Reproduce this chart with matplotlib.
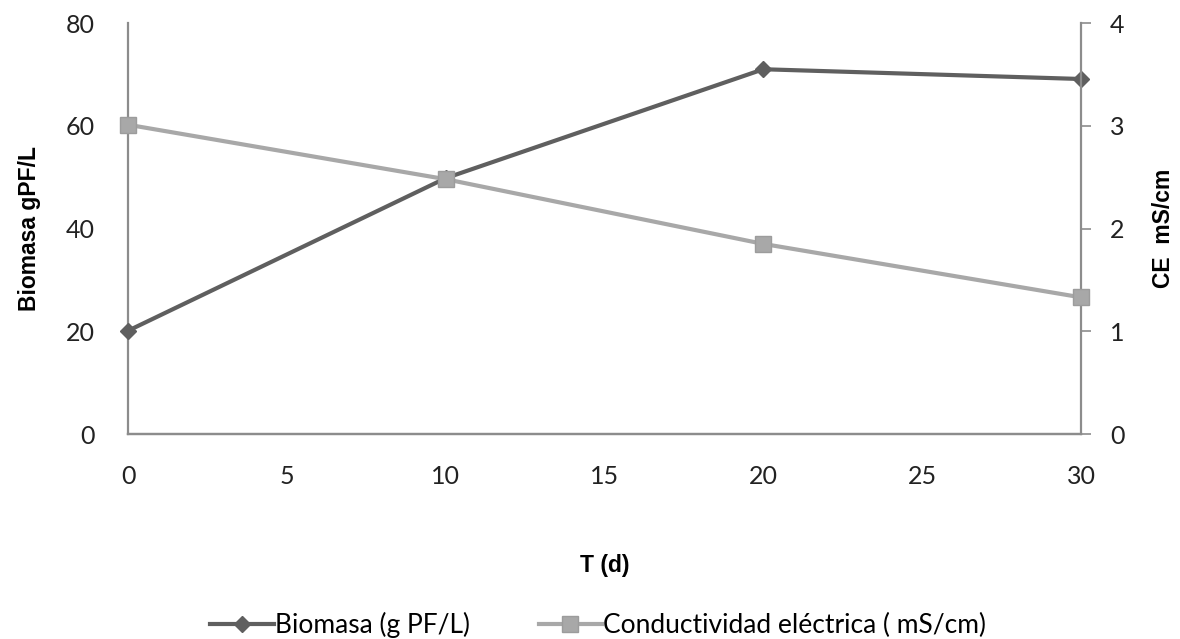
import matplotlib
matplotlib.use("Agg")
import matplotlib.pyplot as plt

# days of culture
dias = [0, 10, 20, 30]
# fresh biomass (g PF/L)
biomasa = [20.1, 49.8, 71.0, 69.1]
# electrical conductivity (mS/cm)
conductividad = [3.01, 2.48, 1.85, 1.33]

c_bio = "#5f5f5f"
c_ce = "#a8a8a8"
c_axis = "#8c8c8c"
c_text = "#222222"

fig = plt.figure(figsize=(11.8, 6.39), dpi=100)
ax = fig.add_axes([0.1085, 0.3208, 0.8076, 0.6432])
ax2 = ax.twinx()

l1, = ax.plot(dias, biomasa, color=c_bio, lw=3, marker="D", ms=8,
              label="Biomasa (g PF/L)", zorder=3, clip_on=False)
l2, = ax2.plot(dias, conductividad, color=c_ce, lw=3, marker="s", ms=11,
               mec="#9c9c9c", label="Conductividad eléctrica ( mS/cm)",
               zorder=3, clip_on=False)

ax.set_xlim(0, 30)
ax.set_ylim(0, 80)
ax2.set_ylim(0, 4)
ax.set_xticks(range(0, 31, 5))
ax.set_yticks(range(0, 81, 20))
ax2.set_yticks(range(0, 5))

for a in (ax, ax2):
    a.spines["top"].set_visible(False)
    for s in ("left", "right", "bottom"):
        a.spines[s].set_color(c_axis)
        a.spines[s].set_linewidth(1.6)
ax2.spines["left"].set_visible(False)
ax.spines["right"].set_visible(False)

ax.tick_params(axis="y", length=0, pad=24, labelsize=18, labelcolor=c_text)
ax.tick_params(axis="x", length=0, pad=22, labelsize=18, labelcolor=c_text)
ax2.tick_params(axis="y", length=7, width=1.2, color=c_axis, pad=14,
                labelsize=18, labelcolor=c_text)
for lab in ax.get_xticklabels() + ax.get_yticklabels() + ax2.get_yticklabels():
    lab.set_fontfamily("Lato")

ax.set_ylabel("Biomasa gPF/L", fontsize=16.5, fontweight="bold",
              fontfamily="Liberation Sans", labelpad=18)
ax2.set_ylabel("CE  mS/cm", fontsize=16.5, fontweight="bold",
               fontfamily="Liberation Sans", labelpad=20)
ax.set_xlabel("T (d)", fontsize=16.5, fontweight="bold",
              fontfamily="Liberation Sans", labelpad=48)

fig.legend(handles=[l1, l2], loc="center", bbox_to_anchor=(0.507, 0.022),
           ncol=2, frameon=False, handlelength=2.4, columnspacing=2.6,
           handletextpad=0.05, prop={"family": "Lato", "size": 19})

fig.savefig("out.png", dpi=100)
